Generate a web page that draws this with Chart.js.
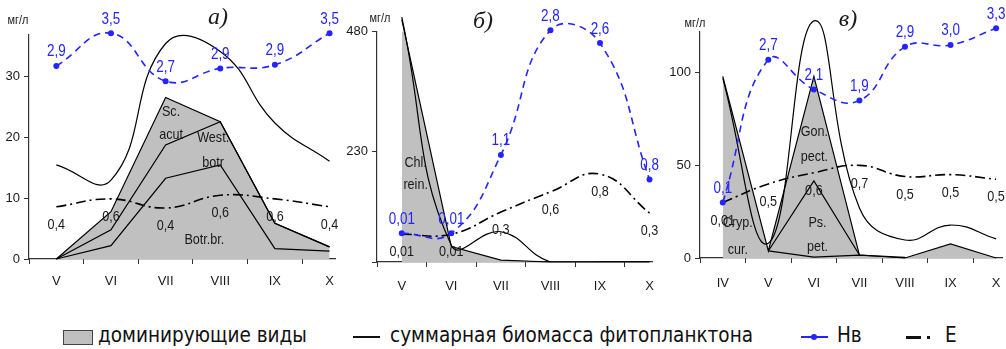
<!DOCTYPE html>
<html>
<head>
<meta charset="utf-8">
<script src="https://cdn.jsdelivr.net/npm/chart.js@4.4.1/dist/chart.umd.min.js"></script>
<style>
  body { margin: 0; background: #fff; }
  #wrap { position: relative; width: 1006px; height: 349px; overflow: hidden; background: #fff; }
  #wrap canvas { position: absolute; top: 0; }
  .lg { position: absolute; font-family: 'DejaVu Sans Condensed', 'DejaVu Sans', sans-serif; font-size: 20.5px; line-height: 20px; top: 325px; color: #111; white-space: nowrap; }
  .box { position: absolute; top: 330px; width: 28px; height: 13px; background: #c0c0c0; border: 1px solid #444; }
  .ln { position: absolute; top: 336px; height: 2px; background: #111; }
  .dot { position: absolute; top: 334px; width: 6px; height: 6px; border-radius: 3px; background: #2424ff; }
</style>
</head>
<body>
<div id="wrap">
  <canvas id="chartA" width="350" height="300" style="left:0px"></canvas>
  <canvas id="chartB" width="330" height="300" style="left:340px"></canvas>
  <canvas id="chartC" width="340" height="300" style="left:666px"></canvas>

  <div class="box" style="left:63px"></div>
  <span class="lg" style="left:98px">доминирующие виды</span>
  <div class="ln" style="left:353px;width:27px"></div>
  <span class="lg" style="left:390px">суммарная биомасса фитопланктона</span>
  <div class="ln" style="left:801px;width:27px;background:#2424ff"></div>
  <div class="dot" style="left:811px"></div>
  <span class="lg" style="left:837px">Нв</span>
  <div class="ln" style="left:906px;width:15px;height:3px"></div>
  <div class="ln" style="left:927px;width:3px;height:3px"></div>
  <span class="lg" style="left:945px">Е</span>
</div>

<script>
// ---- panel а) ----
const monthsA = ['V', 'VI', 'VII', 'VIII', 'IX', 'X'];
const domA = [0, 7.8, 26.6, 22.6, 5.9, 2];        // dominant species, outer edge
const westA = [0, 4.8, 18.8, 22.6, 5.9, 2];
const botrA = [0, 2.2, 13.3, 15.5, 1.7, 1.3];
const totalA = [15.5, 13, 35.5, 34.2, 22.4, 16.1];
const hvA = [31.8, 37.2, 29.3, 31.4, 32, 37.2];   // Нв curve as drawn on the mg/l axis
const hvLabelsA = ['2,9', '3,5', '2,7', '2,9', '2,9', '3,5'];
const eA = [8.6, 9.9, 8.4, 10.5, 9.9, 8.6];
const eLabelsA = ['0,4', '0,6', '0,4', '0,6', '0,6', '0,4'];
const yTicksA = [0, 10, 20, 30];
const speciesA = [['Sc.', 2.1, 24.2], ['acut', 2.1, 20.4], ['West.', 2.87, 19.9], ['botr', 2.87, 15.8], ['Botr.br.', 2.71, 3.1]];

// ---- panel б) ----
const monthsB = ['V', 'VI', 'VII', 'VIII', 'IX', 'X'];
const domB = [505, 32, 4, 0, 0, 0];
const totalB = [510, 35, 63, 0, 0, 0];
const hvB = [60, 60, 223, 483, 456, 172];
const hvLabelsB = ['0,01', '0,01', '1,1', '2,8', '2,6', '0,8'];
const eB = [58, 58, 104, 146, 183, 102];
const eLabelsB = ['0,01', '0,01', '0,3', '0,6', '0,8', '0,3'];
const yTicksB = [0, 230, 480];
const speciesB = [['Chl.', 0.28, 206], ['rein.', 0.28, 160]];

// ---- panel в) ----
const monthsC = ['IV', 'V', 'VI', 'VII', 'VIII', 'IX', 'X'];
const domC = [98, 3.8, 98, 1.6, 0, 7.6, 0];
const psPetC = [null, 3.8, 41.6, 1.6, null, null, null];
const lowC = [null, 3.8, 0.5, 1.6, 0.3, null, null];
const totalC = [97, 8, 128, 27, 9.7, 17.8, 10.3];
const hvC = [30, 107, 91, 85, 114, 115, 124];
const hvLabelsC = ['0,1', '2,7', '2,1', '1,9', '2,9', '3,0', '3,3'];
const eC = [30, 40, 46, 50, 44, 45, 42.5];
const eLabelsC = ['0,01', '0,5', '0,6', '0,7', '0,5', '0,5', '0,5'];
const yTicksC = [0, 50, 100];
const speciesC = [['Gon.', 2.01, 68], ['pect.', 2.01, 54.6], ['Ps.', 2.08, 19], ['pet.', 2.08, 6], ['Cryp.', 0.33, 19], ['cur.', 0.33, 4.3]];

const SANS = "'Liberation Sans', Arial, sans-serif";
const INK = '#1a1a1a';
const AXIS = '#333';
const BLUE = '#2424ff';
const GRAY = '#c0c0c0';
const H = 300;

const pts = arr => arr.map((v, i) => ({x: i, y: v}));

// the original labels are set in a narrow face; squeeze a regular one
function narrowText(ctx, t, x, y) {
  ctx.save();
  ctx.translate(x, y);
  ctx.scale(0.84, 1);
  ctx.fillText(t, 0, 0);
  ctx.restore();
}

function notesPlugin(n) {
  return {
    id: 'notes',
    afterDatasetsDraw(chart) {
      const ctx = chart.ctx;
      const xs = chart.scales.x, ys = chart.scales.y;
      ctx.save();
      ctx.textAlign = 'center';
      ctx.textBaseline = 'middle';
      ctx.fillStyle = INK;
      ctx.font = '15px ' + SANS;
      n.species.forEach(([t, x, y]) => narrowText(ctx, t, xs.getPixelForValue(x), ys.getPixelForValue(y)));
      const eMeta = chart.getDatasetMeta(1);
      n.eLabels.forEach((t, i) => {
        const p = eMeta.data[i];
        narrowText(ctx, t, p.x, p.y + 18);
      });
      ctx.fillStyle = BLUE;
      ctx.font = '16px ' + SANS;
      const hMeta = chart.getDatasetMeta(0);
      n.hvLabels.forEach((t, i) => {
        const p = hMeta.data[i];
        narrowText(ctx, t, p.x, p.y - 14);
      });
      ctx.fillStyle = INK;
      ctx.font = '13px ' + SANS;
      narrowText(ctx, 'мг/л', n.unitX, n.unitY);
      ctx.font = 'italic 24px "Liberation Serif", "DejaVu Serif", serif';
      ctx.fillText(n.title, n.titleX, n.titleY);
      ctx.restore();
    }
  };
}

function panel(id, g, months, yTicks, sets, n) {
  new Chart(document.getElementById(id), {
    type: 'line',
    data: {datasets: sets},
    options: {
      responsive: false,
      animation: false,
      layout: {padding: {left: 0, top: g.top, right: g.w - g.right, bottom: 0}},
      elements: {line: {capBezierPoints: false}},
      plugins: {legend: {display: false}, tooltip: {enabled: false}},
      scales: {
        x: {
          type: 'linear', min: -0.5, max: g.xmax,
          afterBuildTicks: s => { s.ticks = months.map((m, i) => ({value: i})); },
          afterFit: s => { s.height = H - g.bottom; s.paddingLeft = 0; s.paddingRight = 0; },
          ticks: {callback: v => months[v], autoSkip: false, maxRotation: 0, padding: g.labelPad, color: INK, font: {family: SANS, size: 13}},
          grid: {offset: true, drawOnChartArea: false, tickLength: 5, color: AXIS},
          border: {color: AXIS, width: 1.2}
        },
        y: {
          min: 0, max: g.ymax,
          afterBuildTicks: s => { s.ticks = yTicks.map(v => ({value: v})); },
          afterFit: s => { s.width = g.left; s.paddingTop = 0; s.paddingBottom = 0; },
          ticks: {callback: v => (g.hideZero && v === 0 ? '' : v), padding: 4, color: INK, font: {family: SANS, size: 13}},
          grid: {drawOnChartArea: false, tickLength: 5, color: AXIS},
          border: {color: AXIS, width: 1.2}
        }
      }
    },
    plugins: [notesPlugin(n)]
  });
}

function curveSets(hv, e, total) {
  return [
    {data: pts(hv), borderColor: BLUE, borderDash: [7, 5], borderWidth: 1.6, pointRadius: 3,
     pointBackgroundColor: BLUE, pointBorderWidth: 0, tension: 0.45, clip: false},
    {data: pts(e), borderColor: '#000', borderDash: [10, 4, 2, 4], borderWidth: 1.6, pointRadius: 0,
     tension: 0.45, clip: false},
    // nothing of the total curve goes under the zero line
    {data: pts(total), borderColor: '#000', borderWidth: 1.2, pointRadius: 0, tension: 0.45,
     clip: {left: false, top: false, right: false, bottom: 0}}
  ];
}

function plainLine(arr) {
  return {data: pts(arr), borderColor: '#000', borderWidth: 1.2, pointRadius: 0, tension: 0, clip: false};
}

function domFill(arr) {
  return {data: pts(arr), borderColor: '#000', borderWidth: 1.2, pointRadius: 0, tension: 0,
          fill: 'origin', backgroundColor: GRAY, clip: false};
}

panel('chartA',
  {w: 350, left: 29, right: 335, top: 35, bottom: 259, xmax: 5.1, ymax: 36.9, labelPad: 10, hideZero: false},
  monthsA, yTicksA,
  [...curveSets(hvA, eA, totalA), plainLine(botrA), plainLine(westA), domFill(domA)],
  {species: speciesA, eLabels: eLabelsA, hvLabels: hvLabelsA, unitX: 18, unitY: 20, title: 'а)', titleX: 218, titleY: 18});

panel('chartB',
  {w: 330, left: 37, right: 312, top: 31.6, bottom: 262, xmax: 5.05, ymax: 480, labelPad: 12, hideZero: true},
  monthsB, yTicksB,
  [...curveSets(hvB, eB, totalB), domFill(domB)],
  {species: speciesB, eLabels: eLabelsB, hvLabels: hvLabelsB, unitX: 40, unitY: 18, title: 'б)', titleX: 143, titleY: 22});

panel('chartC',
  {w: 340, left: 34, right: 337, top: 32, bottom: 258, xmax: 6.13, ymax: 122, labelPad: 13, hideZero: false},
  monthsC, yTicksC,
  [...curveSets(hvC, eC, totalC), plainLine(lowC), plainLine(psPetC), domFill(domC)],
  {species: speciesC, eLabels: eLabelsC, hvLabels: hvLabelsC, unitX: 29, unitY: 23, title: 'в)', titleX: 182, titleY: 20});
</script>
</body>
</html>
